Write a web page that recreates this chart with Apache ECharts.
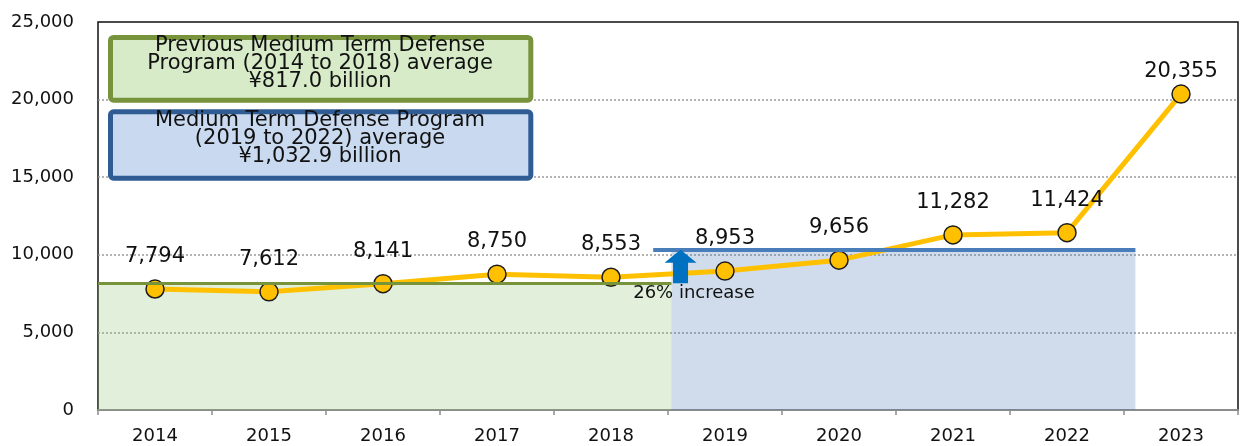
<!DOCTYPE html>
<html>
<head>
<meta charset="utf-8">
<script src="https://cdn.jsdelivr.net/npm/echarts@6/dist/echarts.min.js"></script>
<style>
  html, body { margin: 0; padding: 0; background: #ffffff; }
  #chart { width: 1240px; height: 446px; }
</style>
</head>
<body>
<div id="chart"></div>
<script>
// Defense budget by fiscal year (100 million yen)
const years = ['2014', '2015', '2016', '2017', '2018', '2019', '2020', '2021', '2022', '2023'];
const budget = [7794, 7612, 8141, 8750, 8553, 8953, 9656, 11282, 11424, 20355];

// Program averages (100 million yen) and their spans on a continuous year scale
const prevProgramAvg = 8170;     // ¥817.0 billion
const currProgramAvg = 10329;    // ¥1,032.9 billion
const prevProgramSpan = [0, 5.03];
const currProgramSpan = [5.03, 9.1];
const currAvgLineSpan = [4.87, 9.1];

const prevProgramText = ['Previous Medium Term Defense', 'Program (2014 to 2018) average', '¥817.0 billion'];
const currProgramText = ['Medium Term Defense Program', '(2019 to 2022) average', '¥1,032.9 billion'];
const increaseText = '26% increase';

const FONT = 'DejaVu Sans';

const chart = echarts.init(document.getElementById('chart'), null, { renderer: 'canvas' });

const fmt = v => v.toLocaleString('en-US');

const option = {
  animation: false,
  backgroundColor: '#ffffff',
  textStyle: { fontFamily: FONT },
  grid: {
    left: 98, right: 2, top: 22, bottom: 36,
    show: true, borderColor: '#111111', borderWidth: 1.5, backgroundColor: 'transparent'
  },
  xAxis: [
    {
      type: 'category',
      data: years,
      boundaryGap: true,
      axisLine: { show: true, lineStyle: { color: '#8c8c8c', width: 2 } },
      axisTick: { show: true, length: 5, lineStyle: { color: '#8c8c8c', width: 1.5 } },
      axisLabel: { color: '#111111', fontSize: 18, fontFamily: FONT, margin: 17 },
      splitLine: { show: false }
    },
    {
      type: 'value',
      min: 0, max: 10,
      show: false,
      splitLine: { show: false }
    }
  ],
  yAxis: {
    type: 'value',
    min: 0, max: 25000, interval: 5000,
    axisLine: { show: false },
    axisTick: { show: false },
    axisLabel: { color: '#111111', fontSize: 18, fontFamily: FONT, margin: 24, formatter: v => fmt(v) },
    splitLine: {
      show: true, showMinLine: false, showMaxLine: false,
      lineStyle: { color: '#9a9a9a', width: 1.5, type: [2, 2] }
    }
  },
  series: [
    {
      // program average lines, drawn beneath the budget line
      type: 'line',
      xAxisIndex: 1,
      data: [],
      z: 1,
      silent: true,
      markLine: {
        silent: true,
        symbol: 'none',
        label: { show: false },
        data: [
          [
            { coord: [prevProgramSpan[0], prevProgramAvg], lineStyle: { color: '#77933c', width: 3, type: 'solid' } },
            { coord: [prevProgramSpan[1], prevProgramAvg] }
          ],
          [
            { coord: [currAvgLineSpan[0], currProgramAvg], lineStyle: { color: '#4a7ebb', width: 4, type: 'solid' } },
            { coord: [currAvgLineSpan[1], currProgramAvg] }
          ]
        ]
      }
    },
    {
      name: 'Defense budget',
      type: 'line',
      data: budget.map((v, i) => i === budget.length - 1
        ? { value: v, label: { distance: 2 } }
        : v),
      z: 2,
      lineStyle: { color: '#ffc000', width: 5 },
      symbol: 'circle',
      symbolSize: 18,
      itemStyle: { color: '#ffc000', borderColor: '#1c1c1c', borderWidth: 1.5 },
      label: {
        show: true,
        position: 'top',
        distance: 12,
        color: '#111111',
        fontSize: 21,
        fontFamily: FONT,
        formatter: p => fmt(p.value)
      }
    },
    {
      // translucent program-period shading laid over the budget line
      type: 'line',
      xAxisIndex: 1,
      data: [],
      z: 3,
      silent: true,
      markArea: {
        silent: true,
        label: { show: false },
        data: [
          [
            { coord: [prevProgramSpan[0], 0], itemStyle: { color: 'rgba(139,191,107,0.25)' } },
            { coord: [prevProgramSpan[1], prevProgramAvg] }
          ],
          [
            { coord: [currProgramSpan[0], 0], itemStyle: { color: 'rgba(67,115,175,0.25)' } },
            { coord: [currProgramSpan[1], currProgramAvg] }
          ]
        ]
      }
    }
  ]
};

chart.setOption(option);

// Annotations: program boxes, increase arrow and caption
const toPx = (x, y) => chart.convertToPixel({ xAxisIndex: 1, yAxisIndex: 0 }, [x, y]);
const arrowX = toPx(5.11, 0)[0];
const arrowBottom = toPx(5.11, prevProgramAvg)[1];
const arrowTop = toPx(5.11, currProgramAvg)[1];
const headH = 13, headW = 16, shaftW = 7.5;

chart.setOption({
  graphic: [
    {
      type: 'rect',
      shape: { x: 110.5, y: 37.5, width: 420.3, height: 62.7, r: 3 },
      style: { fill: '#d8ebc9', stroke: '#77933c', lineWidth: 5 },
      z: 10
    },
    {
      type: 'text',
      x: 320, y: 64,
      style: {
        text: prevProgramText.join('\n'),
        fontFamily: FONT, fontSize: 21, lineHeight: 18,
        fill: '#111111', align: 'center', verticalAlign: 'middle'
      },
      z: 11
    },
    {
      type: 'rect',
      shape: { x: 110.5, y: 111.8, width: 420.3, height: 66.4, r: 3 },
      style: { fill: '#c9daf0', stroke: '#2f5c92', lineWidth: 5 },
      z: 10
    },
    {
      type: 'text',
      x: 320, y: 139,
      style: {
        text: currProgramText.join('\n'),
        fontFamily: FONT, fontSize: 21, lineHeight: 18,
        fill: '#111111', align: 'center', verticalAlign: 'middle'
      },
      z: 11
    },
    {
      type: 'polygon',
      shape: {
        points: [
          [arrowX, arrowTop],
          [arrowX + headW, arrowTop + headH],
          [arrowX + shaftW, arrowTop + headH],
          [arrowX + shaftW, arrowBottom],
          [arrowX - shaftW, arrowBottom],
          [arrowX - shaftW, arrowTop + headH],
          [arrowX - headW, arrowTop + headH]
        ]
      },
      style: { fill: '#0070c0' },
      z: 10
    },
    {
      type: 'text',
      x: 694, y: 293,
      style: {
        text: increaseText,
        fontFamily: FONT, fontSize: 18,
        fill: '#111111', align: 'center', verticalAlign: 'middle'
      },
      z: 10
    }
  ]
});
</script>
</body>
</html>
